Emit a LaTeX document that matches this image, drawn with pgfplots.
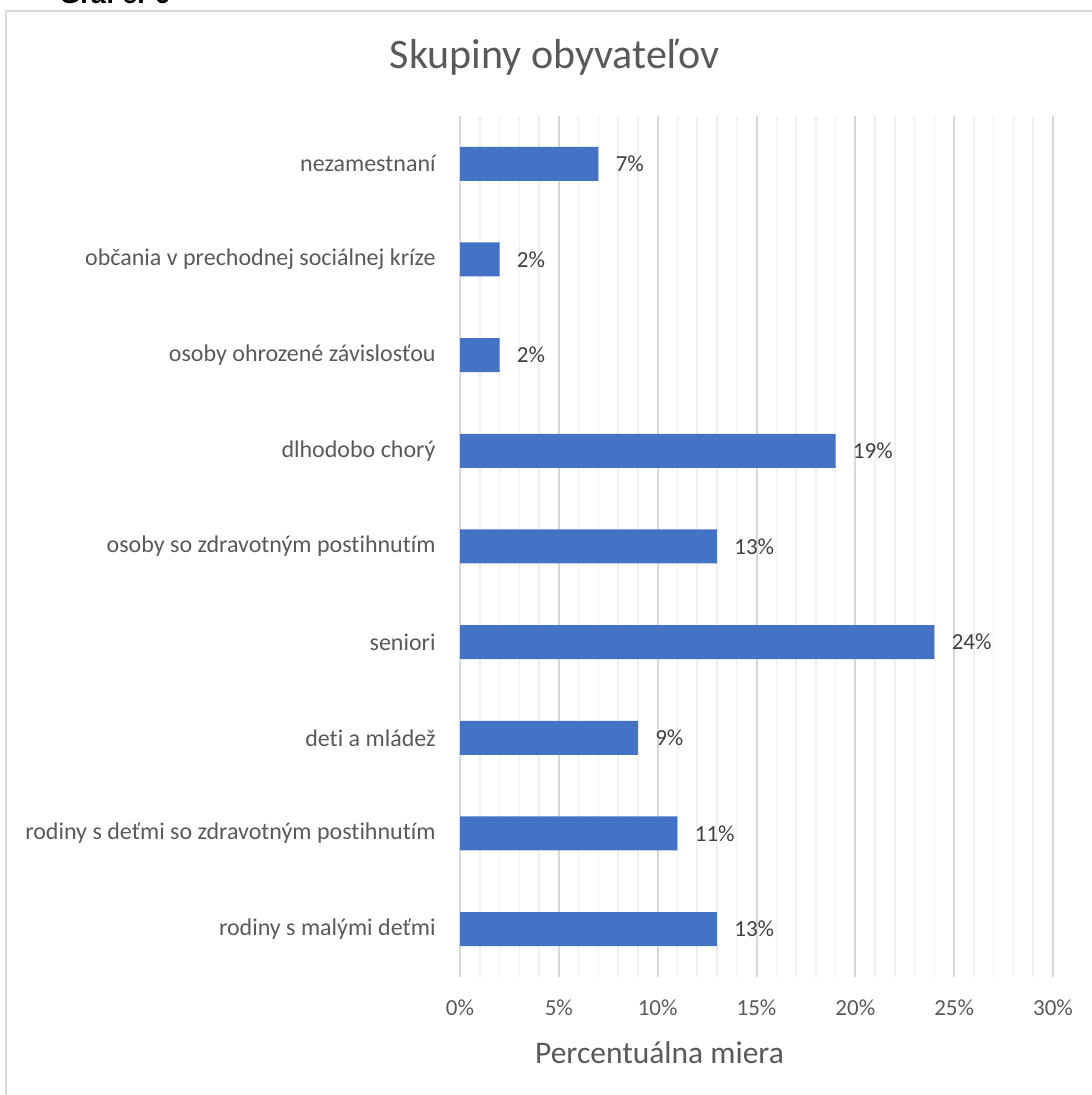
\documentclass[border=0pt]{standalone}
\usepackage{pgfplots}
\pgfplotsset{compat=1.18}
\usepackage{pgfplotstable}
\usepackage{fontspec}
\setmainfont{Carlito}[Ligatures=NoCommon]
\newfontfamily\arialfont{Liberation Sans}
\definecolor{barblue}{HTML}{4472C4}
\definecolor{txtgray}{HTML}{595959}
\definecolor{lblgray}{HTML}{404040}
\definecolor{majgrid}{HTML}{D9D9D9}
\definecolor{mingrid}{HTML}{EFEFEF}
\pgfplotstableread{
y val
0 13
1 11
2 9
3 24
4 13
5 19
6 2
7 2
8 7
}\datatable
\begin{document}
\begin{tikzpicture}
\useasboundingbox (0,0) rectangle (545.5pt,547.5pt);
\draw[majgrid, line width=1pt] (3.1pt,-5pt) -- (3.1pt,541.9pt) -- (560pt,541.9pt);
\node[anchor=base west, inner sep=0pt, font=\arialfont\bfseries\fontsize{13.5}{16}\selectfont] at (29.5pt,545.5pt) {Graf č. 6};
\node[anchor=base, inner sep=0pt, text=txtgray, font=\fontsize{21}{25}\selectfont] at (277.25pt,513pt) {Skupiny obyvateľov};
\node[anchor=base, inner sep=0pt, text=txtgray, font=\fontsize{15.75}{19}\selectfont] at (329.75pt,15.85pt) {Percentuálna miera};
\begin{axis}[
  at={(230pt,59pt)}, anchor=south west,
  scale only axis, width=296.5pt, height=430.5pt,
  xbar, bar width=17pt,
  xmin=0, xmax=30, ymin=-0.5, ymax=8.5,
  axis line style={draw=none},
  xtick={0,5,...,30},
  xticklabels={0\%,5\%,10\%,15\%,20\%,25\%,30\%},
  minor x tick num=4,
  xmajorgrids, xminorgrids,
  major grid style={majgrid, line width=1pt},
  minor grid style={mingrid, line width=0.75pt},
  major tick length=0pt, minor tick length=0pt,
  ytick={0,...,8},
  yticklabels={rodiny s malými deťmi, rodiny s deťmi so zdravotným postihnutím, deti a mládež, seniori, osoby so zdravotným postihnutím, dlhodobo chorý, osoby ohrozené závislosťou, občania v prechodnej sociálnej kríze, nezamestnaní},
  yticklabel style={font=\fontsize{12}{14}\selectfont, text=txtgray, anchor=east, inner sep=0pt, xshift=-12pt},
  xticklabel style={font=\fontsize{11.5}{14}\selectfont, text=txtgray, anchor=base, inner sep=0pt, yshift=-19.5pt},
  /pgf/number format/assume math mode=true,
  point meta=x,
  nodes near coords={\pgfmathprintnumber{\pgfplotspointmeta}\%},
  nodes near coords style={font=\fontsize{11.5}{14}\selectfont, text=lblgray, anchor=west, inner sep=0pt, xshift=8.5pt},
]
\addplot[draw=none, fill=barblue] table[x=val, y=y] {\datatable};
\end{axis}
\end{tikzpicture}
\end{document}
